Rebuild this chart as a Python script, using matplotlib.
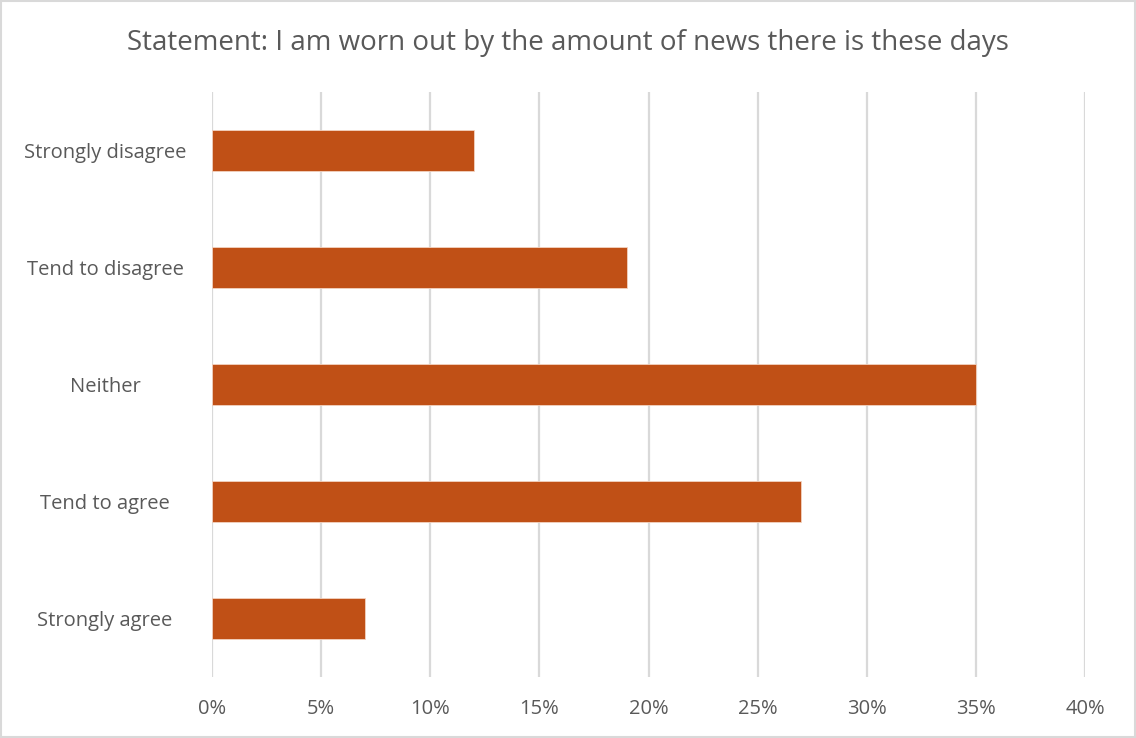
import matplotlib.pyplot as plt
from matplotlib.ticker import PercentFormatter
from matplotlib.patches import Rectangle

categories = ["Strongly disagree", "Tend to disagree", "Neither", "Tend to agree", "Strongly agree"]
shares = [12, 19, 35, 27, 7]
ticks = [0, 5, 10, 15, 20, 25, 30, 35, 40]

plt.rcParams['font.family'] = ['Open Sans', 'DejaVu Sans']
grey = "#595959"

fig = plt.figure(figsize=(11.36, 7.38), dpi=100)
ax = fig.add_axes([212 / 1136, 1 - 677 / 738, (1085 - 212) / 1136, (677 - 92) / 738])

ypos = list(range(len(categories)))
ax.barh(ypos, shares, height=0.35, color="#c05016", edgecolor="#f3d3c0", linewidth=0.6, zorder=3)

ax.set_xlim(0, 40)
ax.set_ylim(len(categories) - 0.5, -0.5)
ax.set_yticks(ypos)
ax.set_yticklabels(categories)
ax.set_xticks(ticks)
ax.xaxis.set_major_formatter(PercentFormatter(decimals=0))
ax.grid(axis="x", color="#d9d9d9", linewidth=1.6, zorder=0)
for s in ax.spines.values():
    s.set_visible(False)
ax.tick_params(length=0, colors=grey, labelsize=14.5)
ax.tick_params(axis="x", pad=16)
# category names centred in the left margin
for lab in ax.get_yticklabels():
    lab.set_horizontalalignment("center")
ax.tick_params(axis="y", pad=77)

fig.text(0.5, 1 - 43 / 738, "Statement: I am worn out by the amount of news there is these days",
         ha="center", va="center", fontsize=20, color=grey)

# thin frame around the chart area
fig.patches.append(Rectangle((0.001, 0.001), 0.998, 0.998, transform=fig.transFigure,
                             fill=False, edgecolor="#d9d9d9", linewidth=1.5))

fig.savefig("out.png", dpi=100)
